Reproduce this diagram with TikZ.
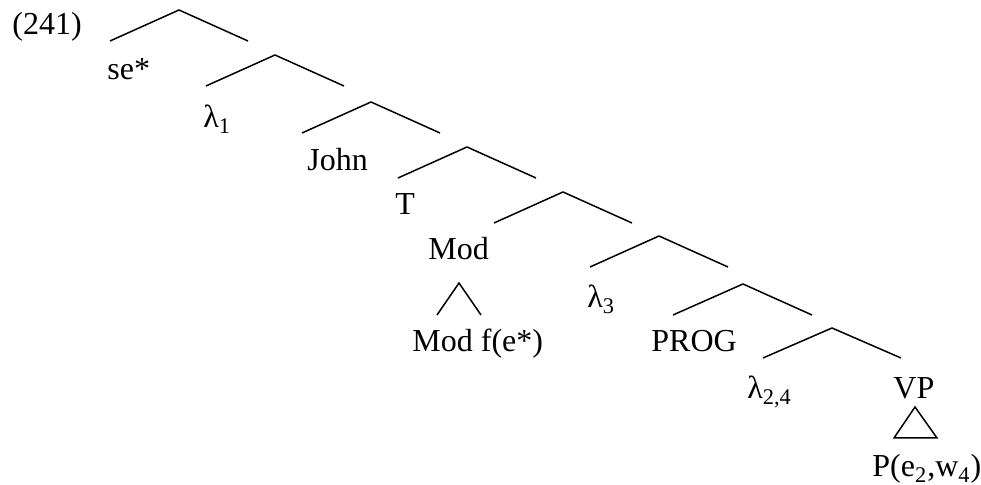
\documentclass[tikz,border=0pt]{standalone}
\usepackage{fontspec}
\setmainfont{Liberation Serif}
\begin{document}
\begin{tikzpicture}[x=0.5pt,y=-0.5pt,
  lbl/.style={inner sep=0pt, anchor=base west, font=\fontsize{16}{19}\selectfont},
  br/.style={line width=0.75pt, line join=miter, line cap=butt}]
\useasboundingbox (0,0) rectangle (981,485);
% branch coordinates
\coordinate (a1) at (179,10);  \coordinate (l1) at (110,41);  \coordinate (r1) at (248,41);
\coordinate (a2) at (275,55);  \coordinate (l2) at (206,86);  \coordinate (r2) at (344,86);
\coordinate (a3) at (371,102); \coordinate (l3) at (302,133); \coordinate (r3) at (440,133);
\coordinate (a4) at (467,147); \coordinate (l4) at (398,178); \coordinate (r4) at (536,178);
\coordinate (a5) at (563,192); \coordinate (l5) at (494,223); \coordinate (r5) at (632,223);
\coordinate (a6) at (659,236); \coordinate (l6) at (590,267); \coordinate (r6) at (728,267);
\coordinate (a7) at (743,284); \coordinate (l7) at (673,315); \coordinate (r7) at (812,315);
\coordinate (a8) at (832,328); \coordinate (l8) at (763,358); \coordinate (r8) at (901,358);
\coordinate (ma) at (459,283); \coordinate (ml) at (437,315); \coordinate (mr) at (481,315);
\coordinate (va) at (915,407); \coordinate (vl) at (894,438); \coordinate (vr) at (937,438);
% labels
\node[lbl] (n241) at (12,35) {(241)};
\node[lbl] (se) at (107,80) {se*};
\node[lbl] (lam1) at (203,128) {λ\textsubscript{1}};
\node[lbl] (john) at (307,171) {John};
\node[lbl] (T) at (395,215) {T};
\node[lbl] (mod) at (428,260) {Mod};
\node[lbl] (modf) at (412,352) {Mod f(e*)};
\node[lbl] (lam3) at (587,308) {λ\textsubscript{3}};
\node[lbl] (prog) at (651,352) {PROG};
\node[lbl] (lam24) at (747,399) {λ\textsubscript{2,4}};
\node[lbl] (vp) at (893,399) {VP};
\node[lbl] (pew) at (872,477) {P(e\textsubscript{2},w\textsubscript{4})};
% branches
\foreach \i in {1,...,8} {\draw[br] (l\i) -- (a\i) -- (r\i);}
\draw[br] (ml) -- (ma) -- (mr);
\draw[br] (va) -- (vl) -- (vr) -- cycle;
\end{tikzpicture}
\end{document}
